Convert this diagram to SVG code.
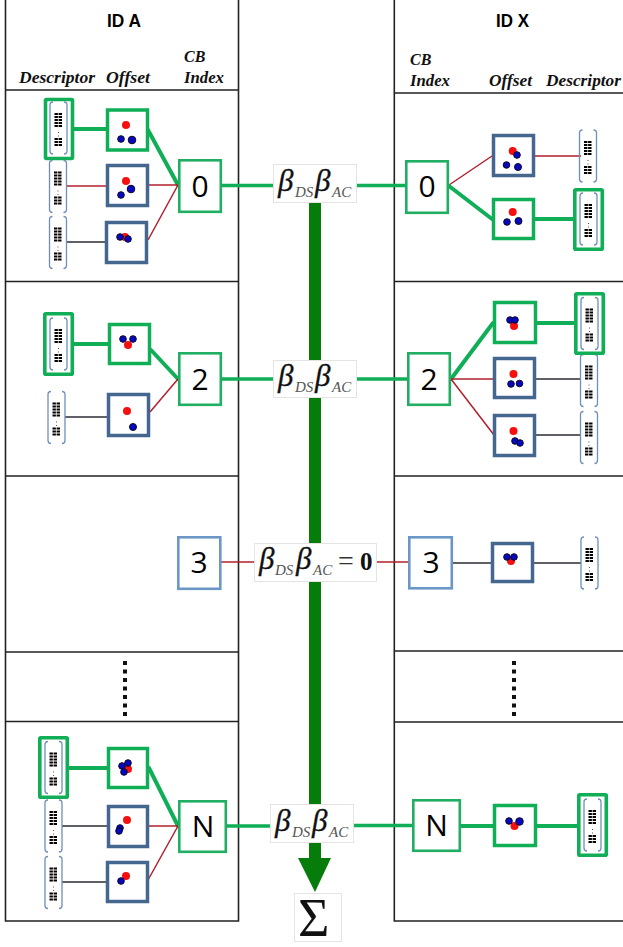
<svg xmlns="http://www.w3.org/2000/svg" width="623" height="947" viewBox="0 0 623 947">
<style>
.frame{fill:none;stroke:#222;stroke-width:1.6}
.g{fill:none;stroke:#0fae57;stroke-width:4;stroke-linecap:round}
.gm{fill:none;stroke:#0fae57;stroke-width:3.4}
.r{fill:none;stroke:#b2202e;stroke-width:1.5}
.k{fill:none;stroke:#2b2d33;stroke-width:1.6}
.ob{fill:#fff;stroke:#45668f;stroke-width:3.5}
.og{fill:#fff;stroke:#0fae57;stroke-width:3.5}
.cg{fill:#fff;stroke:#1fae62;stroke-width:2.6}
.cb{fill:#fff;stroke:#6b96c8;stroke-width:2.6}
.dg{fill:#fff;stroke:#0fae57;stroke-width:3.6}
.red{fill:#f50f0f}
.blue{fill:#0707c4;stroke:#0a0a20;stroke-width:1}
.num{font:30px "Open Sans","Liberation Sans",Arial,sans-serif;fill:#000;text-anchor:middle}
.id{font:bold 18px "Liberation Sans",Arial,sans-serif;fill:#000}
.hd{font:italic bold 16px "Liberation Serif","Times New Roman",serif;fill:#111}
.bb{fill:#fff;stroke:#e4e4e4;stroke-width:1}
.be{font:italic 31px "Liberation Serif","Times New Roman",serif;fill:#111;stroke:#111;stroke-width:.3}
.su{font:italic 15px "Liberation Serif","Times New Roman",serif;fill:#555}
.eq{font:28px "Liberation Serif","Times New Roman",serif;fill:#333}
.zero{font:bold 25px "Liberation Serif","Times New Roman",serif;fill:#111}
.dot{fill:#111}
</style>
<defs>
<g id="desc">
<path d="M-5.5,-26 Q-8.5,-26 -8.5,-23 V23 Q-8.5,26 -5.5,26 M5.5,-26 Q8.5,-26 8.5,-23 V23 Q8.5,26 5.5,26" fill="none" stroke="#6f8fb8" stroke-width="1.3"/>
<path d="M-4,-14H4M-4,-11H4M-4,-8H4M-4,-5H4M-4,-2H4M-4,11H4M-4,14H4M-4,17H4" fill="none" stroke="#000" stroke-width="2" stroke-dasharray="3.4 .7"/>
<path d="M0,4V5M0,7.5V8.5" stroke="#555" stroke-width="1"/>
</g>
</defs>
<g id="frames">
<path class="frame" d="M5.5,0V921H238.5V0M5.5,90H238.5M5.5,281.5H238.5M5.500,476H238.5M5.5,652H238.5M5.5,721.5H238.5"/>
<path class="frame" d="M394.3,0V921H623M394.3,93H623M394.3,281.5H623M394.3,476H623M394.3,651H623M394.3,722H623"/>
</g>
<g id="headers">
<text class="id" x="107" y="27" textLength="34" lengthAdjust="spacingAndGlyphs">ID A</text>
<text class="id" x="496" y="27" textLength="33" lengthAdjust="spacingAndGlyphs">ID X</text>
<text class="hd" x="19" y="83" textLength="76" lengthAdjust="spacingAndGlyphs">Descriptor</text>
<text class="hd" x="106" y="83" textLength="44" lengthAdjust="spacingAndGlyphs">Offset</text>
<text class="hd" x="184" y="62">CB</text>
<text class="hd" x="184" y="83" textLength="40" lengthAdjust="spacingAndGlyphs">Index</text>
<text class="hd" x="410" y="65">CB</text>
<text class="hd" x="410" y="86" textLength="40" lengthAdjust="spacingAndGlyphs">Index</text>
<text class="hd" x="489" y="86" textLength="43" lengthAdjust="spacingAndGlyphs">Offset</text>
<text class="hd" x="546" y="86" textLength="75" lengthAdjust="spacingAndGlyphs">Descriptor</text>
</g>
<g id="connectors">
<path d="M315,200V860" fill="none" stroke="#067d0b" stroke-width="12"/>
<path d="M298,858H331L315,892Z" fill="#067d0b"/>
<path class="g" d="M74,129H107M148,130L178,185"/>
<path class="r" d="M149,185H178M148,240L178,185"/>
<path class="r" d="M66,186H106"/>
<path class="k" d="M67,242H106"/>
<path class="gm" d="M222,185.500H275M355,185.500H405"/>
<path class="r" d="M449,185L492,156M535,156H581"/>
<path class="g" d="M449,186L492,219M535,219H573"/>
<path class="g" d="M74,344H108M151,350L178,379"/>
<path class="r" d="M150,412L178,379"/>
<path class="k" d="M65,417H107"/>
<path class="gm" d="M222,379H275M355,379H407"/>
<path class="g" d="M451,379L493,323M537,323H574"/>
<path class="r" d="M451,379H493M451,379L494,435"/>
<path class="k" d="M536,379H581M536,435H581"/>
<path class="r" d="M221,562H256M376,562H409"/>
<path class="k" d="M453,563H491M534,563H581"/>
<path class="g" d="M69,768H107M149,768L178,826"/>
<path class="r" d="M149,826H178M148,880L178,826"/>
<path class="k" d="M62,826H107M62,882H106"/>
<path class="gm" d="M227,826H272M352,825.500H412"/>
<path class="g" d="M461,826H493M537,826H577"/>
</g>
<g id="desc-a0-1"><rect class="dg" x="45.500" y="99.500" width="27" height="59" rx="1"/><use href="#desc" x="58.500" y="128"/></g>
<g id="desc-a0-2"><use href="#desc" x="58" y="186.500"/></g>
<g id="desc-a0-3"><use href="#desc" x="58" y="242.500"/></g>
<g id="off-a0-1"><rect class="og" x="107.500" y="110" width="40" height="40"/><circle class="red" cx="126" cy="125" r="4"/><circle class="blue" cx="121" cy="139" r="3.300"/><circle class="blue" cx="132" cy="140" r="3.800"/></g>
<g id="off-a0-2"><rect class="ob" x="107.500" y="165.500" width="40" height="40"/><circle class="red" cx="126" cy="181" r="4"/><circle class="blue" cx="121" cy="195" r="3.300"/><circle class="blue" cx="131" cy="189" r="3.800"/></g>
<g id="off-a0-3"><rect class="ob" x="106.500" y="222.500" width="40" height="40"/><circle class="red" cx="125" cy="237" r="4"/><circle class="blue" cx="120" cy="237" r="3.300"/><circle class="blue" cx="128" cy="239" r="3.300"/></g>
<g id="cb-a0"><rect class="cg" x="179.300" y="160.300" width="41.500" height="51.500"/><text class="num" x="200" y="197">0</text></g>
<g id="beta-0"><rect class="bb" x="273.500" y="164.500" width="83" height="38"/><text class="be" x="278" y="191">β</text><text class="su" x="295" y="197">DS</text><text class="be" x="315" y="191">β</text><text class="su" x="332" y="197">AC</text></g>
<g id="cb-x0"><rect class="cg" x="406.300" y="161.300" width="41.500" height="51.500"/><text class="num" x="427" y="197">0</text></g>
<g id="off-x0-1"><rect class="ob" x="493.500" y="135.500" width="40" height="40"/><circle class="red" cx="512.700" cy="151" r="4"/><circle class="blue" cx="517" cy="155" r="3.300"/><circle class="blue" cx="506.500" cy="165" r="3.300"/><circle class="blue" cx="518" cy="167" r="3.500"/></g>
<g id="off-x0-2"><rect class="og" x="493.500" y="199.500" width="40" height="39"/><circle class="red" cx="512.700" cy="212" r="4"/><circle class="blue" cx="507" cy="222" r="3.300"/><circle class="blue" cx="518.500" cy="221" r="3.500"/></g>
<g id="desc-x0-1"><use href="#desc" x="588" y="156"/></g>
<g id="desc-x0-2"><rect class="dg" x="574.800" y="189.800" width="27.500" height="59.500" rx="1"/><use href="#desc" x="588.500" y="219"/></g>
<g id="desc-a2-1"><rect class="dg" x="44.800" y="313.800" width="27.500" height="60.500" rx="1"/><use href="#desc" x="58.500" y="344"/></g>
<g id="desc-a2-2"><use href="#desc" x="56.500" y="417.500"/></g>
<g id="off-a2-1"><rect class="og" x="109.500" y="324.500" width="40" height="39"/><circle class="red" cx="128" cy="345" r="4"/><circle class="blue" cx="123" cy="339" r="3.300"/><circle class="blue" cx="133" cy="339" r="3.300"/></g>
<g id="off-a2-2"><rect class="ob" x="108.500" y="394.500" width="40" height="41"/><circle class="red" cx="127" cy="411" r="4"/><circle class="blue" cx="133" cy="427" r="3.500"/></g>
<g id="cb-a2"><rect class="cg" x="179.300" y="353.300" width="41.500" height="51.500"/><text class="num" x="200" y="390">2</text></g>
<g id="beta-2"><rect class="bb" x="273.500" y="360.500" width="83" height="37"/><text class="be" x="278" y="386">β</text><text class="su" x="295" y="392">DS</text><text class="be" x="315" y="386">β</text><text class="su" x="332" y="392">AC</text></g>
<g id="cb-x2"><rect class="cg" x="408.300" y="353.300" width="41.500" height="51.500"/><text class="num" x="429" y="390">2</text></g>
<g id="off-x2-1"><rect class="og" x="494.500" y="302.500" width="41" height="40"/><circle class="red" cx="514" cy="326" r="4"/><circle class="blue" cx="510" cy="320" r="3.300"/><circle class="blue" cx="515" cy="320" r="3.300"/></g>
<g id="off-x2-2"><rect class="ob" x="494.500" y="358.500" width="40" height="39"/><circle class="red" cx="513.500" cy="374" r="4"/><circle class="blue" cx="511" cy="384" r="3.300"/><circle class="blue" cx="519.500" cy="383.500" r="3.300"/></g>
<g id="off-x2-3"><rect class="ob" x="494.500" y="415.500" width="40" height="40"/><circle class="red" cx="513.500" cy="431" r="4"/><circle class="blue" cx="515" cy="441" r="3.300"/><circle class="blue" cx="520" cy="443" r="3.300"/></g>
<g id="desc-x2-2"><use href="#desc" x="589" y="380.500"/></g>
<g id="desc-x2-3"><use href="#desc" x="589" y="437.500"/></g>
<g id="desc-x2-1"><rect class="dg" x="575.800" y="293.800" width="27.500" height="59.500" rx="1"/><use href="#desc" x="589.500" y="323.500"/></g>
<g id="cb-a3"><rect class="cb" x="178.300" y="537.300" width="42" height="51.500"/><text class="num" x="199" y="573">3</text></g>
<g id="beta-3"><rect class="bb" x="254.500" y="543.500" width="122" height="38"/><text class="be" x="259" y="569">β</text><text class="su" x="275" y="575">DS</text><text class="be" x="296" y="569">β</text><text class="su" x="313" y="575">AC</text><text class="eq" x="338" y="570">=</text><text class="zero" x="360" y="570">0</text></g>
<g id="cb-x3"><rect class="cb" x="409.300" y="537.300" width="42.500" height="51"/><text class="num" x="431" y="573">3</text></g>
<g id="off-x3"><rect class="ob" x="492.500" y="543.500" width="40" height="38"/><circle class="red" cx="511" cy="561" r="4"/><circle class="blue" cx="507" cy="557" r="3.300"/><circle class="blue" cx="514" cy="557" r="3.300"/></g>
<g id="desc-x3"><use href="#desc" x="589.500" y="563"/></g>
<g id="dots">
<path class="dot" d="M123,661h4v4h-4zM123,669.500h4v4h-4zM123,678h4v4h-4zM123,686.500h4v4h-4zM123,695h4v4h-4zM123,703.500h4v4h-4zM123,712h4v4h-4z"/>
<path class="dot" d="M512,661h4v4h-4zM512,669.500h4v4h-4zM512,678h4v4h-4zM512,686.500h4v4h-4zM512,695h4v4h-4zM512,703.500h4v4h-4zM512,712h4v4h-4z"/>
</g>
<g id="desc-an-2"><use href="#desc" x="53.500" y="826"/></g>
<g id="desc-an-3"><use href="#desc" x="53.500" y="882.500"/></g>
<g id="desc-an-1"><rect class="dg" x="39.800" y="737.800" width="27.500" height="59.500" rx="1"/><use href="#desc" x="53.500" y="767.500"/></g>
<g id="off-an-1"><rect class="og" x="108.500" y="748.500" width="39" height="39"/><circle class="red" cx="128" cy="769" r="4"/><circle class="blue" cx="122" cy="766" r="3.300"/><circle class="blue" cx="128" cy="763" r="3.300"/><circle class="blue" cx="124" cy="772" r="3.300"/></g>
<g id="off-an-2"><rect class="ob" x="108.500" y="806.500" width="39" height="40"/><circle class="red" cx="127" cy="820" r="4"/><circle class="blue" cx="120" cy="828" r="3.300"/><circle class="blue" cx="119" cy="831" r="3.300"/></g>
<g id="off-an-3"><rect class="ob" x="107.500" y="862.500" width="40" height="39"/><circle class="red" cx="126" cy="876" r="4"/><circle class="blue" cx="121" cy="881" r="3.300"/></g>
<g id="cb-an"><rect class="cg" x="179.300" y="801.300" width="46.500" height="50.500"/><text class="num" x="203" y="837">N</text></g>
<g id="beta-n"><rect class="bb" x="270.500" y="804.500" width="83" height="38"/><text class="be" x="275" y="831">β</text><text class="su" x="292" y="837">DS</text><text class="be" x="312" y="831">β</text><text class="su" x="329" y="837">AC</text></g>
<g id="cb-xn"><rect class="cg" x="413.300" y="800.300" width="46.500" height="50.500"/><text class="num" x="436.500" y="836">N</text></g>
<g id="off-xn"><rect class="og" x="494.500" y="805.500" width="41" height="40"/><circle class="red" cx="514.500" cy="826" r="4"/><circle class="blue" cx="509" cy="821" r="3.300"/><circle class="blue" cx="519.500" cy="821.500" r="3.800"/></g>
<g id="desc-xn"><rect class="dg" x="578.800" y="794.800" width="27.500" height="60.500" rx="1"/><use href="#desc" x="592.500" y="825"/></g>
<g id="sum"><rect class="bb" x="294.500" y="893.500" width="47" height="48"/><text x="298" y="936" font-family="'Liberation Serif','Times New Roman',serif" font-size="54" fill="#111">Σ</text></g>
</svg>
